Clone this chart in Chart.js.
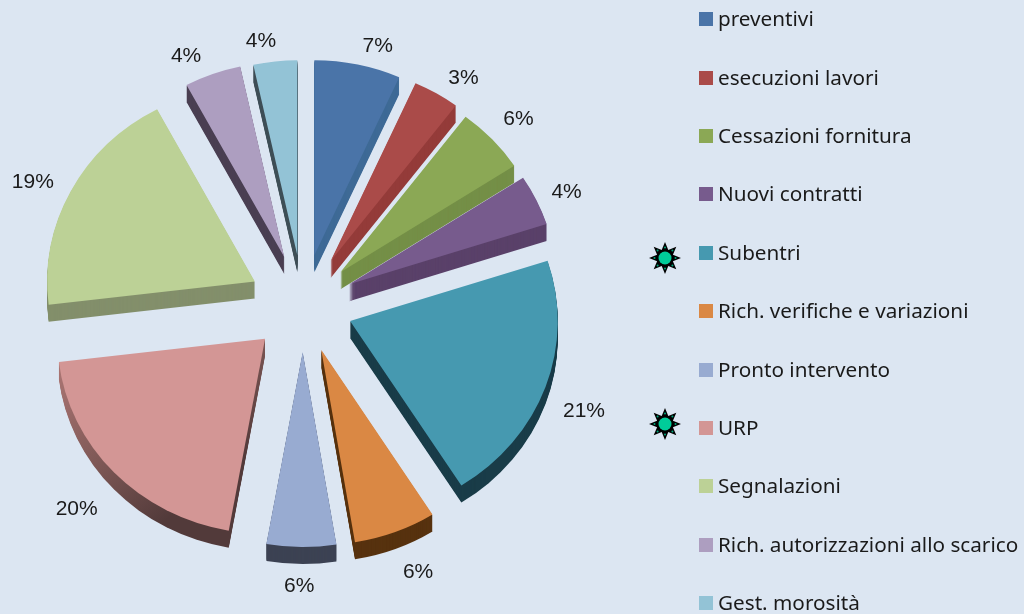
<!DOCTYPE html>
<html>
<head>
<meta charset="utf-8">
<title>Pratiche</title>
<script src="https://cdn.jsdelivr.net/npm/chart.js@4"></script>
<style>
  html, body { margin: 0; padding: 0; background: #dce6f2; overflow: hidden; }
  #wrap { position: relative; width: 1024px; height: 614px; }
  #legend {
    position: absolute; left: 699px; top: -11px; margin: 0; padding: 0; list-style: none;
    font: 20.7px "Noto Sans", sans-serif; color: #1a1a1a; white-space: nowrap;
  }
  #legend li { height: 58.4px; display: flex; align-items: center; }
  #legend i { width: 14px; height: 14px; margin-right: 5px; margin-top: 2px; display: block; }
  #wrap > svg { position: absolute; left: 649px; }
</style>
</head>
<body>
<div id="wrap">
  <canvas id="pieChart" width="1024" height="614"></canvas>
  <ul id="legend"></ul>
</div>
<script>
const categories = ["preventivi", "esecuzioni lavori", "Cessazioni fornitura", "Nuovi contratti", "Subentri",
  "Rich. verifiche e variazioni", "Pronto intervento", "URP", "Segnalazioni",
  "Rich. autorizzazioni allo scarico", "Gest. morosità"];
// slice shares measured on the picture, the printed labels are rounded differently
const shares = [6.7, 3.6, 5.5, 4.2, 21.0, 6.4, 5.4, 20.3, 19.1, 4.4, 3.4];
const percentLabels = ["7%", "3%", "6%", "4%", "21%", "6%", "6%", "20%", "19%", "4%", "4%"];
const starY = [258, 424];

const topColors = ["#4a74a8", "#aa4b49", "#8ba855", "#775b8d", "#4699b0", "#da8844", "#98abd1", "#d39695", "#bcd196", "#ad9ec0", "#93c3d6"];
const wallColors = ["#3e6a96", "#943b39", "#748f47", "#5a4169", "#193c48", "#57320f", "#3c4253", "#b57c7a", "#838f6b", "#4a3f52", "#3f4f57"];
const explode = [51, 51, 48, 48, 47, 48, 47, 49, 51, 51, 50];
const labelDist = [270, 279, 285, 287, 300, 290, 280, 304, 297, 276, 268];
const labelTurn = [4, 4.5, 2.15, 2.25, 0.7, -2.5, 0.4, 1.5, -3, -4.9, -2.9];

const DEPTH = 17;
const STRETCH_X = 1.065; // the tilted pie is a bit wider than tall

function pieCenter(chart) {
  const area = chart.chartArea;
  return { x: (area.left + area.right) / 2, y: (area.top + area.bottom) / 2 };
}

const depthPlugin = {
  id: "depth",
  beforeDatasetsDraw(chart) {
    const ctx = chart.ctx;
    const c = pieCenter(chart);
    ctx.save();
    ctx.translate(c.x, 0);
    ctx.scale(STRETCH_X, 1);
    ctx.translate(-c.x, 0);
    chart.getDatasetMeta(0).data.forEach((arc, i) => {
      // the dataset offset option also grows small slices, so move the arcs directly
      const mid = (arc.startAngle + arc.endAngle) / 2;
      arc.x = c.x + Math.cos(mid) * explode[i];
      arc.y = c.y + Math.sin(mid) * explode[i];

      // extruded side of the slice, drawn under the chart's own arcs
      const r = arc.outerRadius;
      ctx.save();
      ctx.fillStyle = wallColors[i];
      if (categories[i] === "URP") {
        const grad = ctx.createLinearGradient(arc.x - r, arc.y, arc.x - 30, arc.y + r);
        grad.addColorStop(0, "#b57c7a");
        grad.addColorStop(0.5, "#7a5553");
        grad.addColorStop(0.8, "#523a3a");
        grad.addColorStop(1, "#523a3a");
        ctx.fillStyle = grad;
      }
      for (let d = DEPTH; d > 0; d--) {
        ctx.beginPath();
        ctx.moveTo(arc.x, arc.y + d);
        ctx.arc(arc.x, arc.y + d, r, arc.startAngle, arc.endAngle);
        ctx.closePath();
        ctx.fill();
      }
      ctx.restore();
    });
  },
  afterDatasetsDraw(chart) {
    const ctx = chart.ctx;
    ctx.restore();

    const c = pieCenter(chart);
    ctx.save();
    ctx.font = '21px "Liberation Sans", Arial, sans-serif';
    ctx.fillStyle = "#1a1a1a";
    ctx.textAlign = "center";
    ctx.textBaseline = "middle";
    chart.getDatasetMeta(0).data.forEach((arc, i) => {
      const mid = (arc.startAngle + arc.endAngle) / 2 + (labelTurn[i] * Math.PI) / 180;
      ctx.fillText(percentLabels[i], c.x + Math.cos(mid) * labelDist[i], c.y + 1 + Math.sin(mid) * labelDist[i]);
    });
    ctx.restore();
  },
};

const ctx = document.getElementById("pieChart").getContext("2d");
const pieChart = new Chart(ctx, {
  type: "pie",
  data: {
    labels: categories,
    datasets: [
      {
        data: shares,
        backgroundColor: topColors,
        borderWidth: 0,
        clip: false,
      },
    ],
  },
  options: {
    responsive: false,
    animation: false,
    radius: 195,
    layout: { padding: { left: 0, right: 418, top: 0, bottom: 4 } },
    plugins: {
      legend: { display: false },
      tooltip: { enabled: false },
    },
  },
  plugins: [depthPlugin],
});

// legend as a plain list, the built-in one wraps at this row height
const legendEl = document.getElementById("legend");
categories.forEach((name, i) => {
  const li = document.createElement("li");
  li.innerHTML = '<i style="background:' + topColors[i] + '"></i><span>' + name + "</span>";
  legendEl.appendChild(li);
});

// the two star markers left of the legend
function starSvg(y) {
  let pts = "", slivers = "";
  for (let k = 0; k < 16; k++) {
    const r = k % 2 === 0 ? 16 : 8.5;
    const a = (k * Math.PI) / 8;
    pts += (16 + r * Math.cos(a)).toFixed(1) + "," + (16 + r * Math.sin(a)).toFixed(1) + " ";
  }
  for (let k = 0; k < 8; k++) {
    const a = (k * Math.PI) / 4;
    const x = 16 + 10.5 * Math.cos(a);
    const yy = 16 + 10.5 * Math.sin(a);
    slivers += '<circle cx="' + x.toFixed(1) + '" cy="' + yy.toFixed(1) + '" r="1" fill="#00a67c"/>';
  }
  return '<svg width="32" height="32" viewBox="0 0 32 32" style="top:' + (y - 16) + 'px"><polygon points="' + pts + '" fill="#000"/>' + slivers +
    '<circle cx="16" cy="16" r="6.5" fill="#00cc99"/></svg>';
}
starY.forEach((y) => document.getElementById("wrap").insertAdjacentHTML("beforeend", starSvg(y)));
</script>
</body>
</html>
